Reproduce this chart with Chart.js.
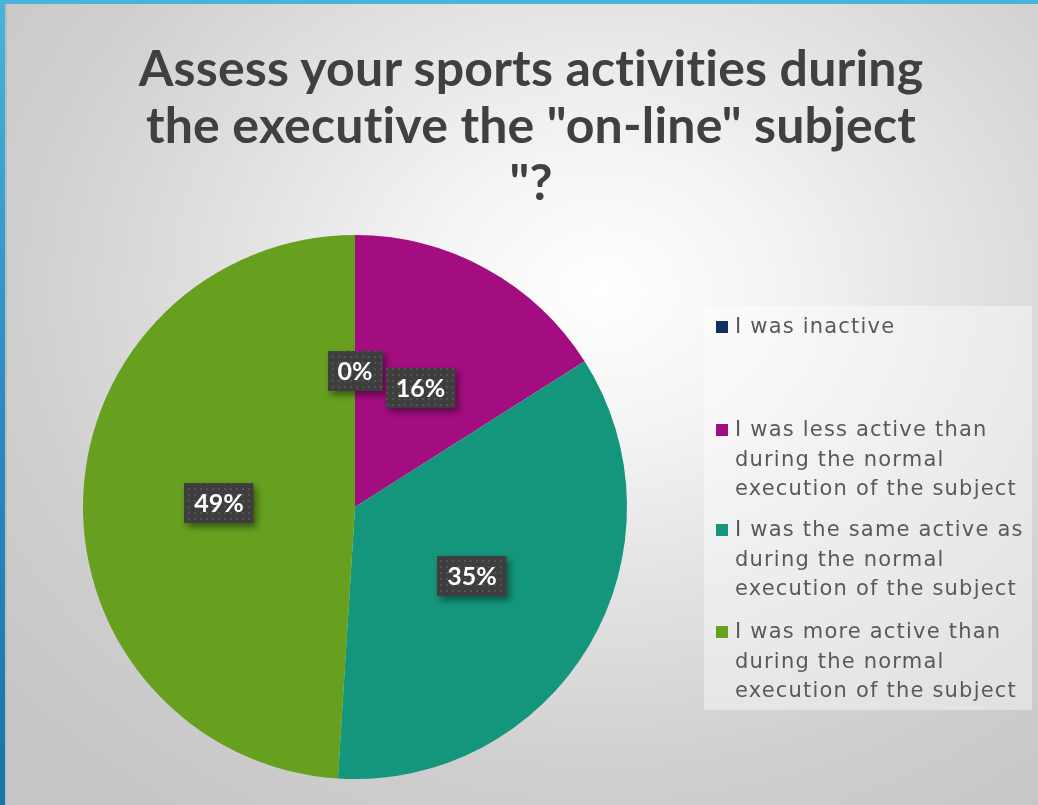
<!DOCTYPE html>
<html>
<head>
<meta charset="utf-8">
<script src="https://cdn.jsdelivr.net/npm/chart.js@4/dist/chart.umd.min.js"></script>
<style>
  html, body { margin: 0; padding: 0; }
  #slide {
    position: relative;
    width: 1038px; height: 805px; overflow: hidden;
    background: radial-gradient(ellipse 75% 80% at 58% 36%, #ffffff 0%, #f4f4f4 22%, #e0e0e0 50%, #cfcfcf 75%, #c6c6c6 100%);
  }
  #topbar { position: absolute; left: 0; top: 0; width: 1038px; height: 4px; background: #4ab3db; }
  #leftbar { position: absolute; left: 0; top: 0; width: 5px; height: 805px;
    background: linear-gradient(to bottom, #4ab3db, #2a8cc0 50%, #1a74a6); }
  #leftedge { position: absolute; left: 5px; top: 4px; width: 2px; height: 801px; background: #bdbdbd; }
  #title {
    position: absolute; left: 0; top: 39px; width: 1062px; text-align: center;
    font-family: Lato, sans-serif; font-weight: 700; font-size: 50px; line-height: 57px;
    letter-spacing: 0.2px; color: #404040;
  }
  #chart { position: absolute; left: 0; top: 0; }
  #legend {
    position: absolute; left: 704px; top: 306px; width: 328px; height: 404px;
    background: rgba(255,255,255,0.42);
  }
  .item { position: absolute; left: 12px; font-family: "DejaVu Sans", sans-serif; font-size: 21px;
    letter-spacing: 1.2px; line-height: 29.5px; color: #595959; }
  .item .sw { position: absolute; left: 0; top: 9px; width: 12px; height: 12px; }
  .item .tx { margin-left: 19px; white-space: nowrap; }
</style>
</head>
<body>
<div id="slide">
  <div id="title"></div>
  <canvas id="chart" width="1038" height="805"></canvas>
  <div id="legend"></div>
  <div id="topbar"></div>
  <div id="leftbar"></div>
  <div id="leftedge"></div>
</div>
<script>
// Survey answers (share of respondents, %)
const titleLines = ['Assess your sports activities during', 'the executive the "on-line" subject', '"?'];
const categories = [
  ['I was inactive'],
  ['I was less active than', 'during the normal', 'execution of the subject'],
  ['I was the same active as', 'during the normal', 'execution of the subject'],
  ['I was more active than', 'during the normal', 'execution of the subject']
];
const shares = [0, 16, 35, 49];
const sliceColors = ['#10315f', '#a30d80', '#14967c', '#679f1f'];
const legendTops = [6, 109, 209, 311];

document.getElementById('title').innerHTML = titleLines
  .map(s => s.replace(/&/g, '&amp;').replace(/</g, '&lt;')).join('<br>');

// Legend
const legend = document.getElementById('legend');
categories.forEach((lines, i) => {
  const item = document.createElement('div');
  item.className = 'item';
  item.style.top = legendTops[i] + 'px';
  const sw = document.createElement('div');
  sw.className = 'sw';
  sw.style.background = sliceColors[i];
  const tx = document.createElement('div');
  tx.className = 'tx';
  tx.innerHTML = lines.join('<br>');
  item.appendChild(sw);
  item.appendChild(tx);
  legend.appendChild(item);
});

// Dotted fill used for the value badges
function dotPattern(ctx) {
  const p = document.createElement('canvas');
  p.width = 6; p.height = 6;
  const c = p.getContext('2d');
  c.fillStyle = '#3e3e3e';
  c.fillRect(0, 0, 6, 6);
  c.fillStyle = '#535353';
  c.fillRect(2, 2, 2, 2);
  return ctx.createPattern(p, 'repeat');
}

const badgeLabels = {
  id: 'badgeLabels',
  afterDatasetsDraw(chart) {
    const ctx = chart.ctx;
    const meta = chart.getDatasetMeta(0);
    const values = chart.data.datasets[0].data;
    const total = values.reduce((a, b) => a + b, 0);
    const fill = dotPattern(ctx);
    ctx.save();
    ctx.font = '700 25px Lato, sans-serif';
    meta.data.forEach((arc, i) => {
      const pt = arc.getCenterPoint();
      const txt = Math.round(values[i] / total * 100) + '%';
      const w = ctx.measureText(txt).width + 20;
      const h = 40;
      const x = Math.round(pt.x - w / 2), y = Math.round(pt.y - h / 2);
      ctx.save();
      ctx.shadowColor = 'rgba(0,0,0,0.45)';
      ctx.shadowBlur = 7;
      ctx.shadowOffsetX = 3;
      ctx.shadowOffsetY = 4;
      ctx.fillStyle = fill;
      ctx.fillRect(x, y, w, h);
      ctx.restore();
      ctx.fillStyle = '#ffffff';
      ctx.textAlign = 'center';
      ctx.textBaseline = 'middle';
      ctx.fillText(txt, pt.x, pt.y + 1);
    });
    ctx.restore();
  }
};

new Chart(document.getElementById('chart'), {
  type: 'pie',
  data: {
    labels: categories,
    datasets: [{
      data: shares,
      backgroundColor: sliceColors,
      borderWidth: 0
    }]
  },
  options: {
    responsive: false,
    animation: false,
    layout: { padding: { left: 83, top: 235, right: 411, bottom: 26 } },
    plugins: {
      legend: { display: false },
      title: { display: false },
      tooltip: { enabled: false }
    }
  },
  plugins: [badgeLabels]
});
</script>
</body>
</html>
